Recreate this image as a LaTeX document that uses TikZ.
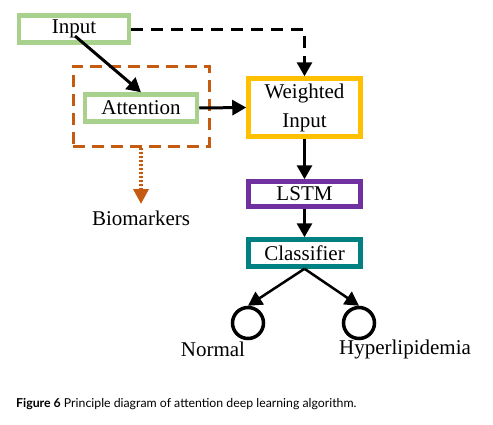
\documentclass[tikz,border=0pt]{standalone}
\usepackage{fontspec}
\setmainfont{Liberation Serif}
\newfontfamily\capfont{Lato}
\usetikzlibrary{arrows.meta, positioning, calc}
\definecolor{lightgreen}{RGB}{169, 209, 142}
\definecolor{rust}{RGB}{197, 90, 17}
\definecolor{gold}{RGB}{255, 192, 0}
\definecolor{violet}{RGB}{112, 48, 160}
\definecolor{teal}{RGB}{0, 128, 128}

\begin{document}
\begin{tikzpicture}[x=1pt, y=-1pt,
        every node/.style={font=\fontsize{21}{23}\selectfont, inner sep=0pt},
        block/.style={draw, line width=4.5pt, minimum width=112pt, align=center},
        flow/.style={-{Triangle[length=14pt,width=15pt]}, line width=3pt},
        leaf/.style={draw, circle, line width=3.5pt, minimum size=31pt}]
        \useasboundingbox (0,0) rectangle (493,424);
        \node[block, draw=lightgreen, minimum width=110pt, minimum height=27pt] (inp) at (74,29) {Input};
        \node[draw=rust, dashed, dash pattern=on 12pt off 7pt, line width=3pt, minimum width=136pt, minimum height=80pt] (attbox) at (141,106) {};
        \node[block, draw=lightgreen, minimum width=112pt, minimum height=27pt] (att) at (141,108) {Attention};
        \node[block, draw=gold, minimum height=58pt, font=\fontsize{21}{29}\selectfont] (wgt) at (304.5,107.5) {Weighted\\Input};
        \node[block, draw=violet, minimum height=25pt] (lstm) at (304.5,194) {LSTM};
        \node[block, draw=teal, minimum height=27pt] (cls) at (304.5,253) {Classifier};
        \node[leaf] (nrm) at (248,323) {};
        \node[leaf] (hyp) at (359,323) {};
        \node (bio) at (141,218) {Biomarkers};
        \node (nrmtxt) at (213,349) {Normal};
        \node (hyptxt) at (405,349) {Hyperlipidemia};
        \coordinate (inpout) at (75,36);
        \coordinate (biotip) at (141,204);
        % connectors
        \draw[flow] (inpout) -- (att.north);
        \draw[flow, dash pattern=on 12pt off 8pt] (inp.east) -| (wgt.north);
        \draw[flow] (att.east) -- (wgt.west);
        \draw[flow] (wgt.south) -- (lstm.north);
        \draw[flow] (lstm.south) -- (cls.north);
        \draw[flow, line width=2.5pt] (cls.south) -- (nrm.north);
        \draw[flow, line width=2.5pt] (cls.south) -- (hyp.north);
        \draw[-{Triangle[length=15pt,width=15pt]}, draw=rust, fill=rust, line width=3.5pt, dash pattern=on 2.5pt off 1.5pt] (attbox.south) -- (biotip);
        % caption
        \node[anchor=base west, font=\capfont\fontsize{12.3}{14}\selectfont] (cap) at (16,407) {\textbf{Figure 6} Principle diagram of attention deep learning algorithm.};
    \end{tikzpicture}
\end{document}
